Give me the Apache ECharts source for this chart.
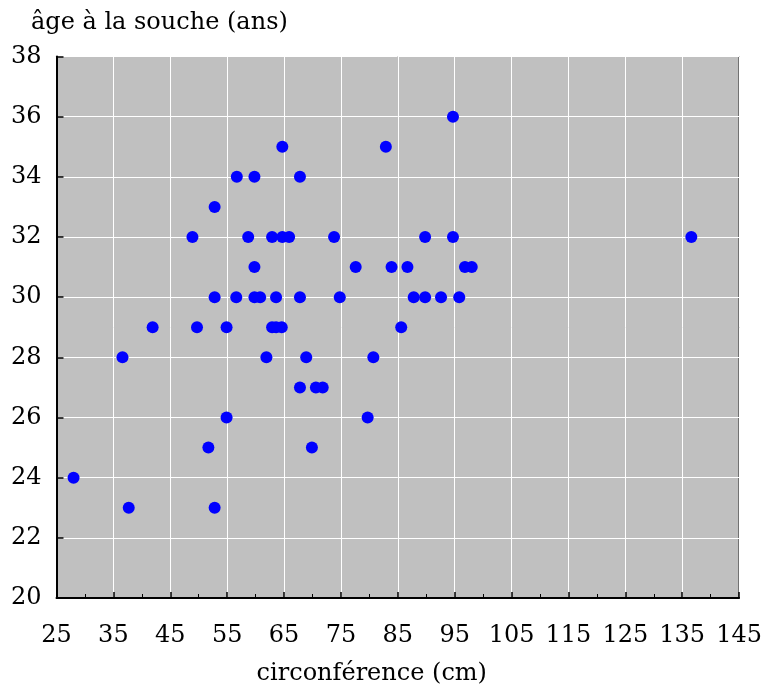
<!DOCTYPE html>
<html>
<head>
<meta charset="utf-8">
<script src="https://cdn.jsdelivr.net/npm/echarts@6/dist/echarts.min.js"></script>
<style>
  html, body { margin: 0; padding: 0; background: #fff; }
  #chart { width: 765px; height: 691px; }
</style>
</head>
<body>
<div id="chart"></div>
<script>
// Tree circumference (cm) and age at the stump (years), one entry per tree
const circumference = [
  28, 36.6, 37.7, 41.9, 48.9, 49.7, 51.7, 52.8, 52.8, 52.8,
  54.9, 54.9, 56.7, 56.6, 58.7, 59.8, 59.8, 59.8, 60.8, 61.9,
  62.9, 62.9, 63.6, 63.6, 64.6, 64.7, 64.7, 65.9, 67.8, 67.8,
  67.8, 68.9, 69.9, 70.6, 71.8, 73.8, 74.8, 77.6, 79.7, 80.7,
  82.9, 83.9, 85.6, 86.7, 87.8, 89.8, 89.8, 92.6, 94.7, 94.7,
  95.8, 96.8, 98.0, 136.6
];
const age = [
  24, 28, 23, 29, 32, 29, 25, 33, 30, 23,
  29, 26, 34, 30, 32, 34, 31, 30, 30, 28,
  32, 29, 30, 29, 29, 35, 32, 32, 34, 30,
  27, 28, 25, 27, 27, 32, 30, 31, 26, 28,
  35, 31, 29, 31, 30, 32, 30, 30, 36, 32,
  30, 31, 31, 32
];

const xTitle = 'circonférence (cm)';
const yTitle = 'âge à la souche (ans)';

const points = circumference.map((c, i) => [c, age[i]]);

const FONT = 'DejaVu Serif';
const FS = 24;
const chart = echarts.init(document.getElementById('chart'), null, { renderer: 'canvas' });

chart.setOption({
  animation: false,
  backgroundColor: '#ffffff',
  textStyle: { fontFamily: FONT },
  title: {
    text: yTitle,
    left: 26,
    top: 6,
    textStyle: { fontFamily: FONT, fontSize: FS, fontWeight: 'normal', color: '#000' }
  },
  grid: {
    left: 56.5,
    right: 22,
    top: 56.5,
    bottom: 92.5,
    show: true,
    backgroundColor: '#c0c0c0',
    borderColor: '#000',
    borderWidth: 1
  },
  xAxis: {
    type: 'value',
    min: 25,
    max: 145,
    interval: 10,
    name: xTitle,
    nameLocation: 'middle',
    nameGap: 64,
    nameTextStyle: { fontFamily: FONT, fontSize: FS, color: '#000', padding: [0, 52, 0, 0] },
    axisLine: { show: true, onZero: false, lineStyle: { color: '#000', width: 2 } },
    axisTick: { show: true, inside: true, length: 6, lineStyle: { color: '#000', width: 1.5 } },
    minorTick: { show: true, splitNumber: 2, length: 4, lineStyle: { color: '#000', width: 1 } },
    axisLabel: { fontFamily: FONT, fontSize: FS, color: '#000', margin: 26 },
    splitLine: { show: true, lineStyle: { color: '#ffffff', width: 1 } }
  },
  yAxis: {
    type: 'value',
    min: 20,
    max: 38,
    interval: 2,
    axisLine: { show: true, onZero: false, lineStyle: { color: '#000', width: 2 } },
    axisTick: { show: true, inside: true, length: 7, lineStyle: { color: '#000', width: 1.5 } },
    axisLabel: { fontFamily: FONT, fontSize: FS, color: '#000', margin: 15 },
    splitLine: { show: true, lineStyle: { color: '#ffffff', width: 1 } }
  },
  series: [{
    type: 'scatter',
    data: points,
    symbol: 'circle',
    symbolSize: 12,
    itemStyle: { color: '#0000ff', opacity: 1 },
    emphasis: { disabled: true }
  }]
});
</script>
</body>
</html>
